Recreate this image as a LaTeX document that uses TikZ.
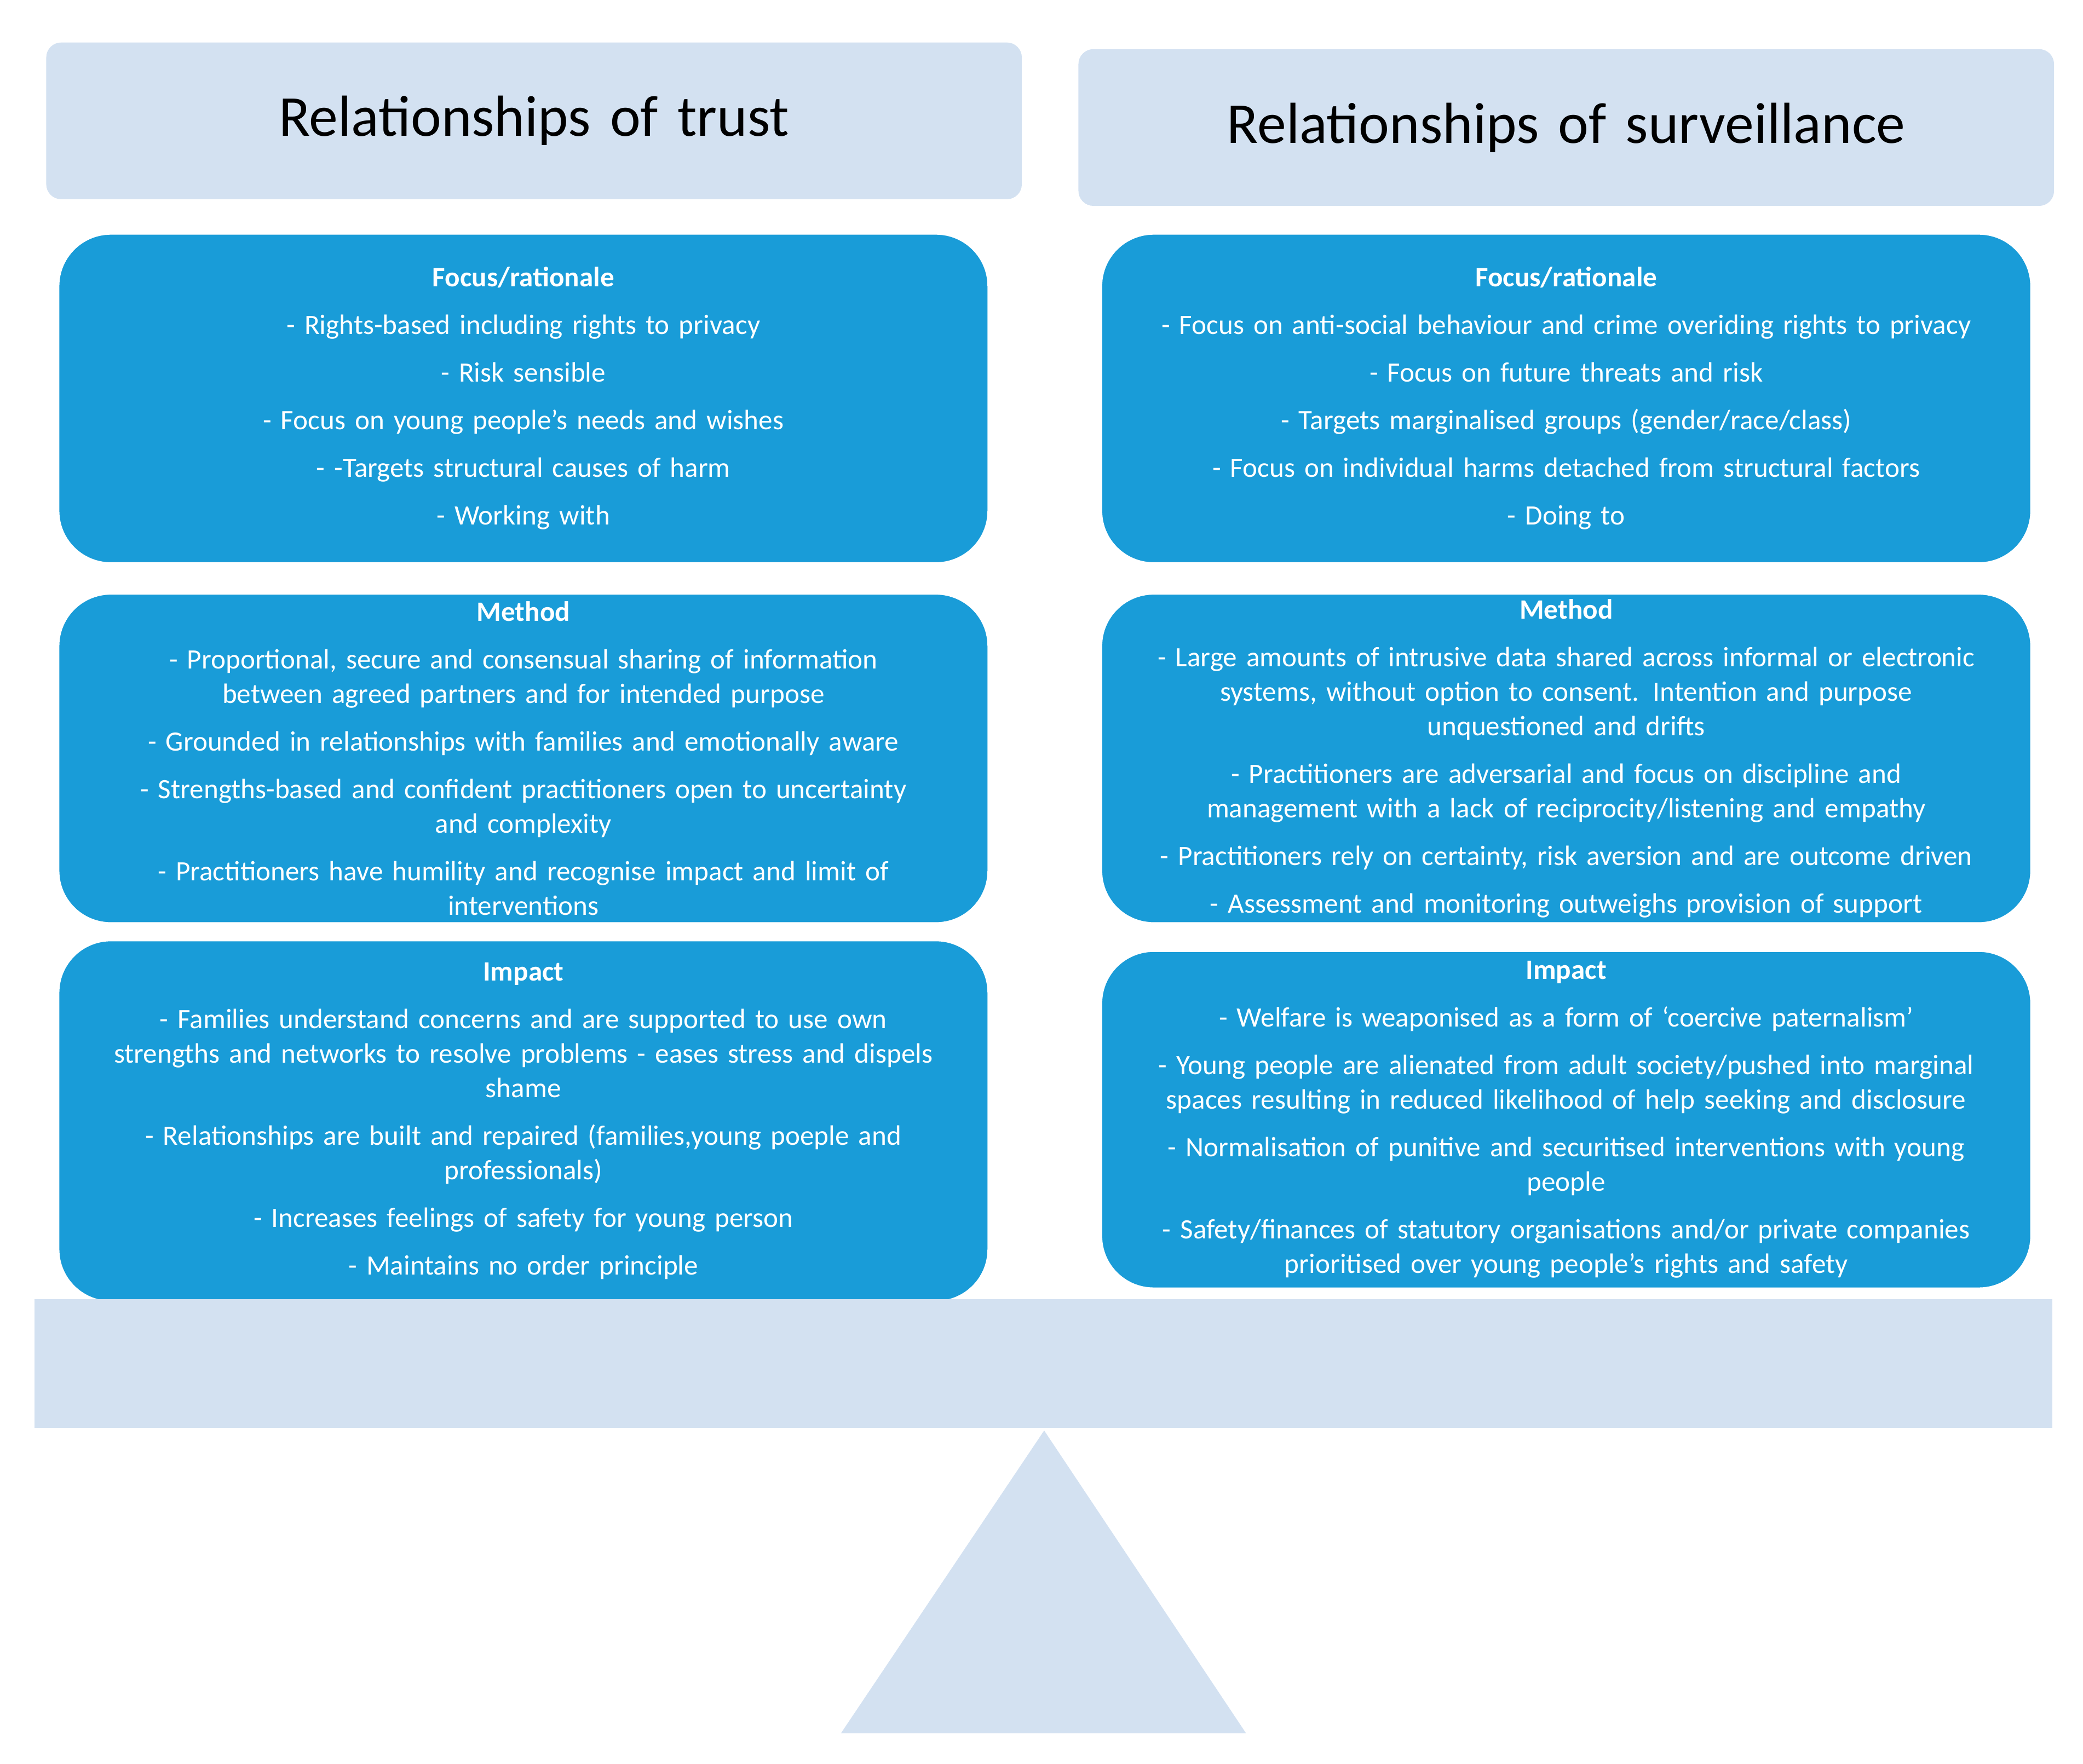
\documentclass[tikz,border=0pt]{standalone}
\usepackage{fontspec}
\setmainfont{Carlito}
\definecolor{paleblue}{RGB}{211,225,241}
\definecolor{boxblue}{RGB}{25,156,216}
\tikzset{
  title/.style={fill=paleblue, rounded corners=8pt, minimum height=118*0.025cm, text width=725*0.025cm, align=center, font=\fontsize{31}{36}\selectfont},
  panel/.style={fill=boxblue, draw=white, line width=1pt, rounded corners=28pt, text=white, align=center, text width=700*0.025cm, inner sep=0pt, font=\fontsize{15}{18.5}\selectfont}
}
\newcommand{\gap}{\\[7pt]}
\begin{document}
\begin{tikzpicture}[x=0.025cm,y=-0.025cm]
  \useasboundingbox (0,0) rectangle (1568,1328);
  % Titles
  \node[title] (trust) at (402,91) {Relationships of trust};
  \node[title] (surv) at (1179,96) {Relationships of surveillance};

  % Left column
  \node[panel, minimum height=248*0.025cm] (lfocus) at (394,300) {\textbf{Focus/rationale}\gap
    - Rights-based including rights to privacy\gap
    - Risk sensible\gap
    - Focus on young people's needs and wishes\gap
    - -Targets structural causes of harm\gap
    - Working with};
  \node[panel, minimum height=248*0.025cm] (lmethod) at (394,571) {\textbf{Method}\gap
    - Proportional, secure and consensual sharing of information\\ between agreed partners and for intended purpose\gap
    - Grounded in relationships with families and emotionally aware\gap
    - Strengths-based and confident practitioners open to uncertainty\\ and complexity\gap
    - Practitioners have humility and recognise impact and limit of\\ interventions};
  \node[panel, minimum height=272*0.025cm] (limpact) at (394,844) {\textbf{Impact}\gap
    - Families understand concerns and are supported to use own\\ strengths and networks to resolve problems - eases stress and dispels\\ shame\gap
    - Relationships are built and repaired (families,young poeple and\\ professionals)\gap
    - Increases feelings of safety for young person\gap
    - Maintains no order principle};

  % Right column
  \node[panel, minimum height=248*0.025cm] (rfocus) at (1179,300) {\textbf{Focus/rationale}\gap
    - Focus on anti-social behaviour and crime overiding rights to privacy\gap
    - Focus on future threats and risk\gap
    - Targets marginalised groups (gender/race/class)\gap
    - Focus on individual harms detached from structural factors\gap
    - Doing to};
  \node[panel, minimum height=248*0.025cm] (rmethod) at (1179,571) {\textbf{Method}\gap
    - Large amounts of intrusive data shared across informal or electronic\\ systems, without option to consent. Intention and purpose\\ unquestioned and drifts\gap
    - Practitioners are adversarial and focus on discipline and\\ management with a lack of reciprocity/listening and empathy\gap
    - Practitioners rely on certainty, risk aversion and are outcome driven\gap
    - Assessment and monitoring outweighs provision of support};
  \node[panel, minimum height=254*0.025cm] (rimpact) at (1179,843) {\textbf{Impact}\gap
    - Welfare is weaponised as a form of `coercive paternalism'\gap
    - Young people are alienated from adult society/pushed into marginal\\ spaces resulting in reduced likelihood of help seeking and disclosure\gap
    - Normalisation of punitive and securitised interventions with young\\ people\gap
    - Safety/finances of statutory organisations and/or private companies\\ prioritised over young people's rights and safety};

  % Balance
  \fill[paleblue] (26,978) rectangle (1545,1075);
  \fill[paleblue] (786,1077) -- (938,1305) -- (633,1305) -- cycle;
\end{tikzpicture}
\end{document}
